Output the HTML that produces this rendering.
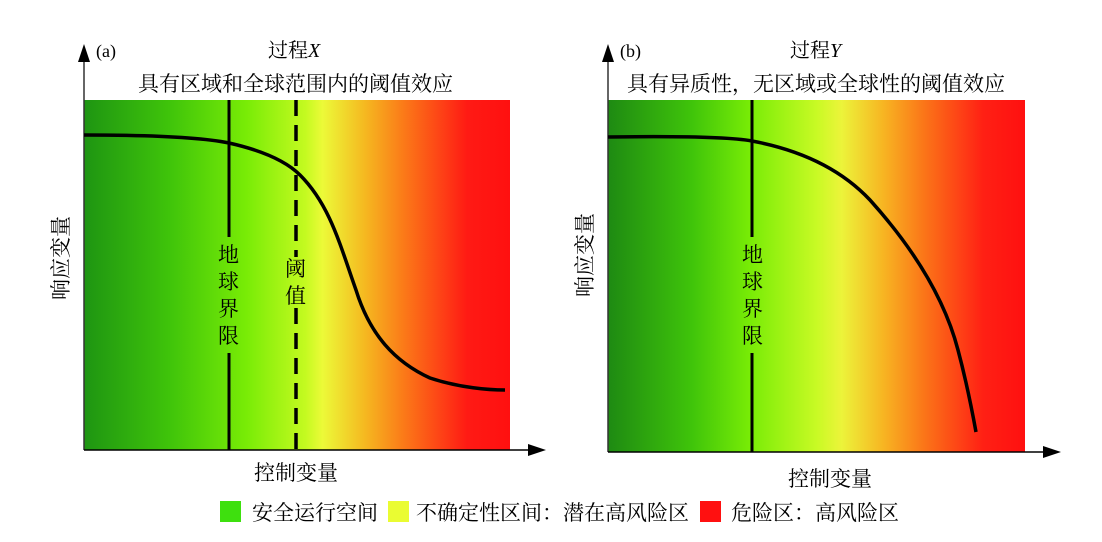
<!DOCTYPE html>
<html><head><meta charset="utf-8"><style>
html,body{margin:0;padding:0;background:#fff}
</style></head><body>
<svg width="1102" height="537" viewBox="0 0 1102 537" xmlns="http://www.w3.org/2000/svg" font-family="'Liberation Serif','Noto Serif CJK SC',serif">
<defs>
<linearGradient id="ga" x1="0" x2="1" y1="0" y2="0">
<stop offset="0" stop-color="#1e9512"/>
<stop offset="0.2" stop-color="#3fc40a"/>
<stop offset="0.38" stop-color="#78ec06"/>
<stop offset="0.52" stop-color="#c4fa20"/>
<stop offset="0.56" stop-color="#ecfa38"/>
<stop offset="0.66" stop-color="#f5b820"/>
<stop offset="0.75" stop-color="#fb7a18"/>
<stop offset="0.9" stop-color="#ff1a14"/>
<stop offset="1" stop-color="#ff1010"/>
</linearGradient>
<linearGradient id="gb" x1="0" x2="1" y1="0" y2="0">
<stop offset="0" stop-color="#1e8a12"/>
<stop offset="0.2" stop-color="#3fc40a"/>
<stop offset="0.34" stop-color="#78ec06"/>
<stop offset="0.5" stop-color="#c8fa24"/>
<stop offset="0.56" stop-color="#ecf43a"/>
<stop offset="0.66" stop-color="#f7b522"/>
<stop offset="0.76" stop-color="#fb7418"/>
<stop offset="0.9" stop-color="#ff2014"/>
<stop offset="1" stop-color="#ff1010"/>
</linearGradient>
</defs>
<!-- panel a -->
<rect x="84" y="100" width="426" height="350" fill="url(#ga)"/>
<line x1="84" y1="450" x2="84" y2="55" stroke="#333" stroke-width="1.5"/>
<polygon points="78,62 84,44 90,62" fill="#000"/>
<line x1="84" y1="450" x2="535" y2="450" stroke="#000" stroke-width="1.5"/>
<polygon points="528,444 546,450 528,456" fill="#000"/>
<line x1="229" y1="100" x2="229" y2="237" stroke="#000" stroke-width="3"/>
<line x1="229" y1="353" x2="229" y2="450" stroke="#000" stroke-width="3"/>
<line x1="296" y1="100" x2="296" y2="257" stroke="#000" stroke-width="3.5" stroke-dasharray="16,9"/>
<line x1="296" y1="308" x2="296" y2="450" stroke="#000" stroke-width="3.5" stroke-dasharray="16,9"/>
<path d="M84,135 C150,135 200,137 229,143 C260,150 285,160 300,175 C330,205 340,245 356,290 C370,335 395,362 430,378 C460,388 490,390 505,390" fill="none" stroke="#000" stroke-width="3.5"/>
<g font-size="21" fill="#000">
<text x="96" y="57" font-size="18">(a)</text>
<text x="268" y="57" font-size="20">过程<tspan font-style="italic">X</tspan></text>
<text x="138" y="91">具有区域和全球范围内的阈值效应</text>
<text x="218" y="262">地</text><text x="218" y="289">球</text><text x="218" y="316">界</text><text x="218" y="343">限</text>
<text x="285" y="276">阈</text><text x="285" y="303">值</text>
<text x="254" y="480">控制变量</text>
<text transform="translate(68,300) rotate(-90)">响应变量</text>
</g>
<!-- panel b -->
<rect x="608" y="100" width="417" height="352" fill="url(#gb)"/>
<line x1="608" y1="452" x2="608" y2="55" stroke="#333" stroke-width="1.5"/>
<polygon points="602,62 608,44 614,62" fill="#000"/>
<line x1="608" y1="452" x2="1050" y2="452" stroke="#000" stroke-width="1.5"/>
<polygon points="1043,446 1061,452 1043,458" fill="#000"/>
<line x1="752" y1="100" x2="752" y2="237" stroke="#000" stroke-width="3"/>
<line x1="752" y1="353" x2="752" y2="452" stroke="#000" stroke-width="3"/>
<path d="M608,137 C680,136 730,137 752,141 C800,150 840,168 870,200 C915,250 945,300 958,350 C966,380 972,410 976,432" fill="none" stroke="#000" stroke-width="3.5"/>
<g font-size="21" fill="#000">
<text x="620" y="57" font-size="18">(b)</text>
<text x="790" y="57" font-size="20">过程<tspan font-style="italic">Y</tspan></text>
<text x="627" y="91">具有异质性，无区域或全球性的阈值效应</text>
<text x="742" y="262">地</text><text x="742" y="289">球</text><text x="742" y="316">界</text><text x="742" y="343">限</text>
<text x="788" y="486">控制变量</text>
<text transform="translate(592,297) rotate(-90)">响应变量</text>
</g>
<!-- legend -->
<rect x="220" y="501" width="21" height="21" fill="#3ee00e"/>
<rect x="388" y="501" width="21" height="21" fill="#eafc32"/>
<rect x="700" y="501" width="21" height="21" fill="#ff1010"/>
<g font-size="21" fill="#000">
<text x="252" y="520">安全运行空间</text>
<text x="416" y="520">不确定性区间：潜在高风险区</text>
<text x="731" y="520">危险区：高风险区</text>
</g>
</svg>
</body></html>
